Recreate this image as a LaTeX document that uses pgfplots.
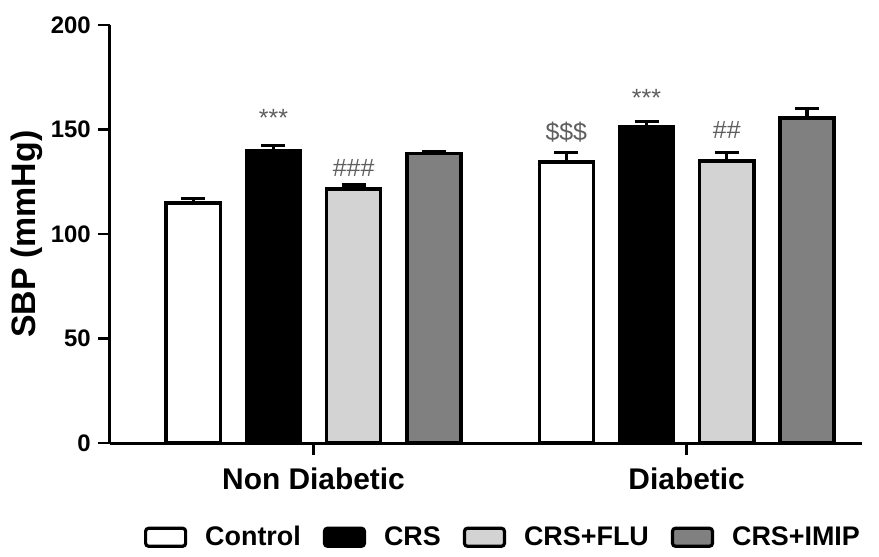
\documentclass[border=0pt]{standalone}
\usepackage{fontspec}
\setmainfont{Liberation Sans}
\usepackage{pgfplots}
\pgfplotsset{compat=1.18}
\definecolor{flu}{RGB}{211,211,211}
\definecolor{imip}{RGB}{128,128,128}
\definecolor{sig}{RGB}{95,95,95}
\begin{document}
\begin{tikzpicture}
\begin{axis}[
    scale only axis,
    width=376bp, height=209bp,
    ymin=0, ymax=200,
    ytick={0,50,100,150,200},
    xmin=-0.546, xmax=1.47,
    xtick={0,1},
    xticklabels={Non Diabetic, Diabetic},
    axis x line*=bottom, axis y line*=left,
    axis line style={line width=1.5bp},
    tick style={line width=1.2bp, black},
    tick align=outside,
    major tick length=6bp,
    /pgf/number format/assume math mode=true,
    tick label style={font=\bfseries\fontsize{12}{14}\selectfont},
    xticklabel style={font=\bfseries\fontsize{15}{17}\selectfont, yshift=-3bp},
    ylabel={SBP (mmHg)},
    ylabel style={font=\bfseries\fontsize{17}{19}\selectfont, yshift=-2.5bp},
    ybar, bar width=0.145,
    every axis plot/.append style={draw=black, line width=1.75bp},
    error bars/y dir=plus,
    error bars/y explicit,
    error bars/error bar style={line width=1.6bp, black},
    error bars/error mark options={rotate=90, line width=1.6bp, mark size=6bp, black},
    legend style={at={(rel axis cs:0.524,-0.225)}, anchor=center,
      legend columns=-1, draw=none,
      font=\bfseries\fontsize{13.5}{15}\selectfont,
      /tikz/every odd column/.append style={column sep=7bp},
      /tikz/every even column/.append style={column sep=9bp}},
    legend image code/.code={\draw[#1, line width=1.6bp, rounded corners=1.5bp] (0bp,-4.5bp) rectangle (20bp,4.5bp);},
    clip=false,
]
\addplot[fill=white, bar shift=-0.3225] coordinates {(0,115) +- (0,2) (1,134.5) +- (0,4.5)};
\addplot[fill=black, bar shift=-0.1075] coordinates {(0,140) +- (0,2.5) (1,151.5) +- (0,2.5)};
\addplot[fill=flu, bar shift=0.1075] coordinates {(0,121.5) +- (0,2) (1,135) +- (0,4)};
\addplot[fill=imip, bar shift=0.3225] coordinates {(0,138.5) +- (0,1) (1,155.5) +- (0,4.5)};
\legend{Control, CRS, CRS+FLU, CRS+IMIP}
\node[text=sig, font=\fontsize{12.5}{13}\selectfont] at (axis cs:-0.1075,155.5) {***};
\node[text=sig, font=\fontsize{12.5}{13}\selectfont] at (axis cs:0.1075,131.6) {\#\#\#};
\node[text=sig, font=\fontsize{12.5}{13}\selectfont] at (axis cs:0.6775,149) {\$\$\$};
\node[text=sig, font=\fontsize{12.5}{13}\selectfont] at (axis cs:0.8925,165) {***};
\node[text=sig, font=\fontsize{12.5}{13}\selectfont] at (axis cs:1.1075,150) {\#\#};
\path (rel axis cs:-0.146,1.06) rectangle (rel axis cs:1.0226,-0.261);
\end{axis}
\end{tikzpicture}
\end{document}
